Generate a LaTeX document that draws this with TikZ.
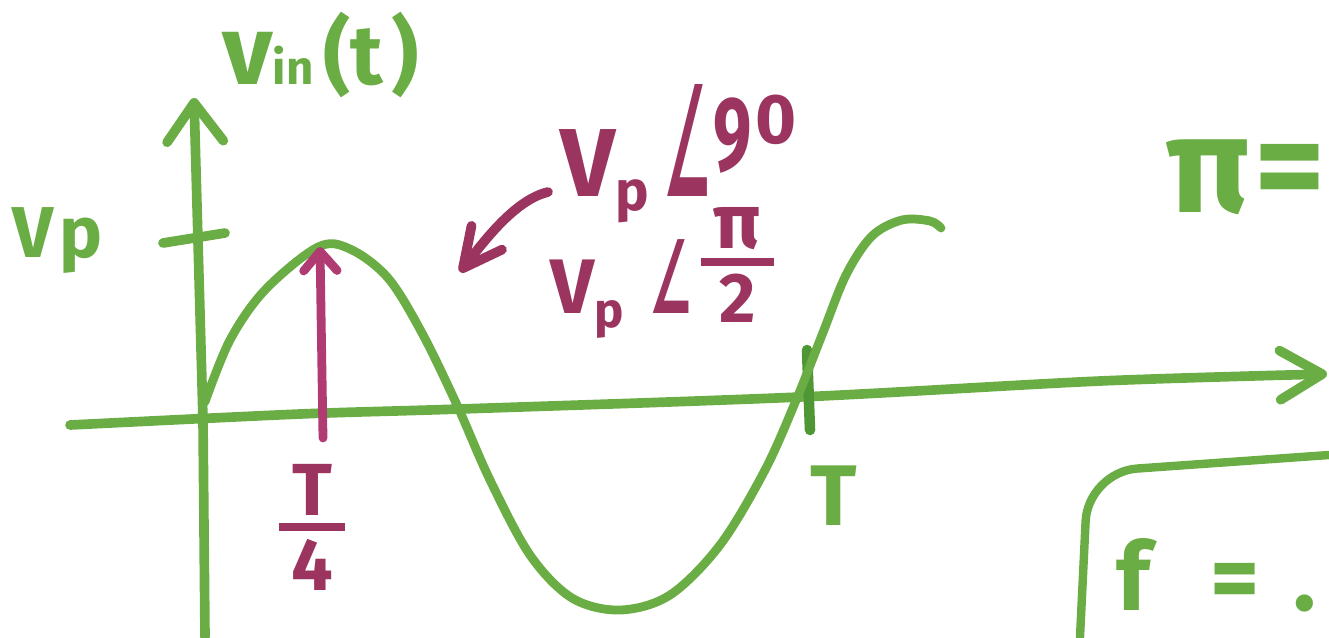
\documentclass[tikz,border=0pt]{standalone}
\usepackage{fontspec}
\usepackage{amsmath}
\usepackage{graphicx}
\setmainfont{Fira Sans}
\newfontfamily\djv{DejaVu Sans}
\usetikzlibrary{arrows.meta}
\newlength\px \setlength\px{0.02cm}
\newcommand\fs[1]{\fontsize{#1}{#1}\selectfont}
\definecolor{mk}{HTML}{6AAD45}
\definecolor{mkd}{HTML}{4F9735}
\definecolor{mg}{HTML}{9B355F}
\definecolor{mgl}{HTML}{B03A72}
\begin{document}
\begin{tikzpicture}[x=0.02cm,y=-0.02cm,line cap=round,line join=round,
  gline/.style={draw=mk,line width=5.5pt},
  sine/.style={draw=mk,line width=5pt},
  mline/.style={draw=mgl,line width=5pt},
  gtext/.style={text=mk,font=\bfseries,inner sep=0pt},
  mtext/.style={text=mg,font=\bfseries,inner sep=0pt}]
\useasboundingbox (0,0) rectangle (1329,637);

% named points
\coordinate (vbot) at (205,637);
\coordinate (vtop) at (194,98);
\coordinate (hleft) at (70,425);
\coordinate (htip) at (1327,374);
\coordinate (peak) at (320,247);
\coordinate (qfoot) at (323,438);
\coordinate (cstart) at (548,192);
\coordinate (ctip) at (460,272);

% axes
\draw[gline,-{Straight Barb[length=22pt,width=32pt,round]}] (vbot) -- (203,420) -- (vtop);
\draw[gline,-{Straight Barb[length=24pt,width=28pt,round]}] plot[smooth,tension=0.5] coordinates {(70,425) (300,414) (460,409) (800,397) (1100,381) (1327,374)};

% Vp tick
\draw[gline] (163,243) -- (225,233);
% T tick
\draw[draw=mkd,line width=6pt] (807,350) -- (810,430);

% sine
\draw[sine] plot[smooth,tension=0.55] coordinates {(205,402) (230,340) (265,290) (318,247) (350,249) (388,278) (422,333) (457,405) (490,480) (530,555) (572,598) (620,610) (670,595) (720,545) (765,470) (797,398) (822,335) (846,275) (872,236) (902,220) (930,221) (941,228)};

% rounded box
\draw[draw=mk,line width=4.8pt,rounded corners=28pt] (1080,637) -- (1088,472) -- (1329,455);

% magenta arrows
\draw[mline,-{Straight Barb[length=11pt,width=19pt,round]}] (qfoot) -- (peak);
\draw[draw=mg,line width=5.5pt,-{Straight Barb[length=22pt,width=22pt,round]}] (cstart) .. controls (515,200) and (485,240) .. (ctip);

% green texts
\node[gtext,anchor=base west] (vp) at (12,257) {\fs{41}V\hspace{6\px}p};
\node[gtext,anchor=base west] (vin) at (222,84) {\fs{56}v\fs{27}in\hspace{10\px}\fs{48}(t\hspace{8\px})};
\node[gtext,anchor=base west] (T) at (810,525) {\fs{49}T};
\node[gtext,anchor=base west] (pi) at (1166,212) {\fs{78}π\hspace{4\px}=};
\node[gtext,anchor=base west] (f) at (1116,610) {\fs{54}f\hspace{60\px}=\hspace{34\px}.};

% magenta texts
\node[mtext] (tq) at (312,527) {\fs{42}$\genfrac{}{}{8\px}{1}{\hbox{\fs{42}\,T\,}}{\hbox{\fs{42}\,4\,}}$};
\node[mtext,anchor=base west] (l1) at (560,196) {\fs{55}V\raisebox{-14\px}{\fs{32}p}\hspace{14\px}\resizebox{48\px}{112\px}{\fs{70}\djv ∠}\hspace{2\px}\raisebox{26\px}{\scalebox{0.65}[1]{\fs{60}9}}\hspace{4\px}\raisebox{53\px}{\fs{40}0}};
\node[mtext,anchor=base west] (l2) at (550,313) {\fs{44}V\raisebox{-14\px}{\fs{28}p}\hspace{26\px}\scalebox{0.36}[0.76]{\fs{76}\djv ∠}\hspace{6\px}\raisebox{40\px}{$\genfrac{}{}{8\px}{1}{\hbox{\fs{44}\,π\,}}{\hbox{\fs{40}2}}$}};
\end{tikzpicture}
\end{document}
